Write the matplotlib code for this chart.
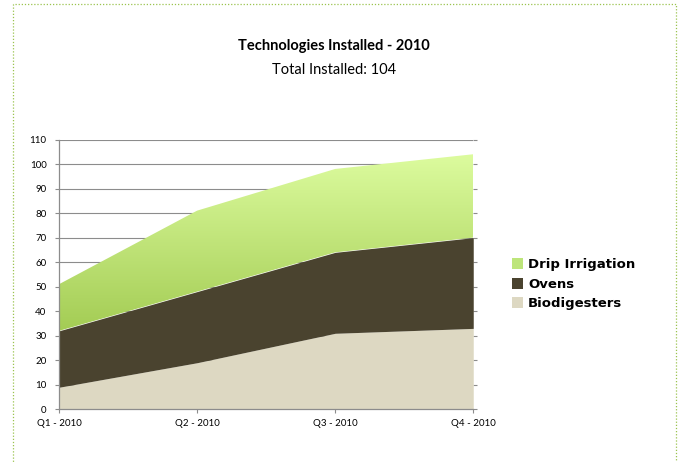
import numpy as np
import matplotlib
matplotlib.use("Agg")
import matplotlib.pyplot as plt
from matplotlib.patches import Rectangle, Patch
from matplotlib.colors import LinearSegmentedColormap

# Data (stacked quarterly installs)
quarters = ["Q1 - 2010", "Q2 - 2010", "Q3 - 2010", "Q4 - 2010"]
biodigesters = [9, 19, 31, 33]
ovens = [23, 29, 33, 37]
drip_irrigation = [19, 33, 34, 34]
y_ticks = list(range(0, 111, 10))

plt.rcParams["font.family"] = ["Lato", "DejaVu Sans"]

fig = plt.figure(figsize=(6.78, 4.62), dpi=100)
ax = fig.add_axes([0.087, 0.114, 0.611, 0.584])

x = np.arange(len(quarters))
bio = np.asarray(biodigesters, dtype=float)
ov = bio + np.asarray(ovens, dtype=float)
tot = ov + np.asarray(drip_irrigation, dtype=float)

# Grid behind the areas
ax.set_axisbelow(True)
ax.grid(axis="y", color="#8c8c8c", lw=0.8)

ax.fill_between(x, 0, bio, color="#ddd8c2", lw=0, zorder=2)
ax.fill_between(x, bio, ov, color="#4a432f", lw=0, zorder=2)
drip = ax.fill_between(x, ov, tot, color="none", lw=0, zorder=2)

# Vertical gradient for the drip irrigation area
green = LinearSegmentedColormap.from_list("green", ["#a2cb52", "#ddfc9f"])
grad = np.linspace(0, 1, 256).reshape(-1, 1)
img = ax.imshow(grad, cmap=green, origin="lower", aspect="auto",
                extent=(x[0], x[-1], 30, 105), zorder=2)
img.set_clip_path(drip.get_paths()[0], transform=ax.transData)

ax.set_xlim(x[0], x[-1])
ax.set_ylim(0, 110)
ax.set_yticks(y_ticks)
ax.set_xticks(x)
ax.set_xticklabels(quarters)
ax.tick_params(axis="both", labelsize=7, colors="#000000", length=3, width=0.8)
ax.tick_params(axis="both", color="#8c8c8c")
ax.tick_params(axis="y", right=True, pad=6)
ax.tick_params(axis="x", pad=4)
for side in ("top", "right"):
    ax.spines[side].set_visible(False)
for side in ("left", "bottom"):
    ax.spines[side].set_color("#8c8c8c")
    ax.spines[side].set_linewidth(0.9)

fig.text(0.492, 0.9, "Technologies Installed - 2010", ha="center", va="center",
         fontsize=10.5, fontweight="bold")
fig.text(0.492, 0.849, "Total Installed: 104", ha="center", va="center", fontsize=10.5)

handles = [Patch(facecolor="#bde57a", edgecolor="none"),
           Patch(facecolor="#4a432f", edgecolor="none"),
           Patch(facecolor="#ddd8c2", edgecolor="none")]
fig.legend(handles, ["Drip Irrigation", "Ovens", "Biodigesters"],
           loc="center left", bbox_to_anchor=(0.737, 0.385), frameon=False,
           prop={"family": "DejaVu Sans", "weight": "bold", "size": 9.5},
           handlelength=0.9, handleheight=0.9, handletextpad=0.35, labelspacing=0.5)

# Dotted green frame around the chart
frame = Rectangle((13 / 678, -0.05), (676 - 13) / 678, 1.05 - 4 / 462,
                  transform=fig.transFigure, fill=False, edgecolor="#9bc34f",
                  lw=0.9, linestyle=(0, (1, 1.5)), clip_on=False)
fig.patches.append(frame)

fig.savefig("out.png", dpi=100, facecolor="w")
